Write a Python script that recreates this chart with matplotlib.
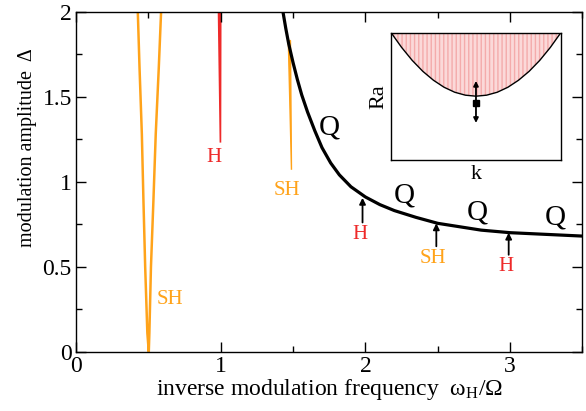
import matplotlib
matplotlib.use("Agg")
import matplotlib.pyplot as plt

plt.rcParams['font.family'] = ['Liberation Serif', 'DejaVu Serif']
plt.rcParams['mathtext.fontset'] = 'custom'
plt.rcParams['mathtext.rm'] = 'Liberation Serif'
plt.rcParams['mathtext.it'] = 'Liberation Serif:italic'
plt.rcParams['hatch.linewidth'] = 1.0

ORANGE = '#ffa31a'
RED = '#ee2a2a'

# quasiperiodic (Q) boundary
q_x = [1.43, 1.45, 1.47, 1.50, 1.53, 1.56, 1.60, 1.65, 1.70, 1.76, 1.82, 1.90, 2.00,
       2.10, 2.20, 2.35, 2.50, 2.65, 2.80, 3.00, 3.25, 3.50]
q_y = [2.00, 1.90, 1.81, 1.70, 1.60, 1.51, 1.41, 1.30, 1.20, 1.11, 1.04, 0.97, 0.91,
       0.865, 0.83, 0.79, 0.755, 0.735, 0.715, 0.70, 0.69, 0.68]

# subharmonic tongue near 0.5
sh_x = [0.427, 0.439, 0.455, 0.466, 0.478, 0.493, 0.503, 0.507, 0.518, 0.535, 0.551, 0.572, 0.588]
sh_y = [2.00, 1.67, 1.28, 0.89, 0.50, 0.11, 0.00, 0.11, 0.50, 0.89, 1.28, 1.67, 2.00]

# harmonic wedge at 1 and subharmonic wedge at 1.5
h1_x = [0.985, 1.000, 0.998]
h1_y = [2.00, 2.00, 1.23]
sh2_x = [1.467, 1.482, 1.489]
sh2_y = [1.83, 1.83, 1.07]

# arrows under the Q curve: (x, tail, head, label, colour)
arr_x = [1.98, 2.49, 2.99]
arr_tail = [0.76, 0.62, 0.57]
arr_head = [0.905, 0.755, 0.70]
arr_lab = ['H', 'SH', 'H']
arr_col = [RED, ORANGE, RED]

q_lab_x = [1.75, 2.27, 2.77, 3.31]
q_lab_y = [1.32, 0.92, 0.82, 0.79]

# inset: stability parabola Ra(k)
k_vals = [-1.0, -0.875, -0.75, -0.625, -0.5, -0.375, -0.25, -0.125, 0.0,
          0.125, 0.25, 0.375, 0.5, 0.625, 0.75, 0.875, 1.0]
ra_vals = [1.0, 0.883, 0.781, 0.695, 0.625, 0.570, 0.531, 0.508, 0.5,
           0.508, 0.531, 0.570, 0.625, 0.695, 0.781, 0.883, 1.0]

fig = plt.figure(figsize=(5.86, 4.11), dpi=100)
ax = fig.add_axes([0.1297, 0.1443, 0.8643, 0.8273])

ax.plot(q_x, q_y, color='black', lw=2.3, solid_capstyle='butt')
ax.plot(sh_x, sh_y, color=ORANGE, lw=1.8)
ax.fill(h1_x, h1_y, color=RED, lw=1.2, ec=RED)
ax.fill(sh2_x, sh2_y, color=ORANGE, lw=1.0, ec=ORANGE)

for x, t, h, lab, c in zip(arr_x, arr_tail, arr_head, arr_lab, arr_col):
    ax.annotate('', xy=(x, h), xytext=(x, t),
                arrowprops=dict(arrowstyle='-|>', color='black', lw=1.3,
                                mutation_scale=9, shrinkA=0, shrinkB=0))
    ax.text(x - 0.02, t - 0.07, lab, color=c, fontsize=15, ha='center', va='center')

for x, y in zip(q_lab_x, q_lab_y):
    ax.text(x, y, 'Q', fontsize=21, ha='center', va='center')

ax.text(0.955, 1.14, 'H', color=RED, fontsize=15, ha='center', va='center')
ax.text(1.46, 0.95, 'SH', color=ORANGE, fontsize=15, ha='center', va='center')
ax.text(0.65, 0.305, 'SH', color=ORANGE, fontsize=15, ha='center', va='center')

ax.set_xlim(0, 3.5)
ax.set_ylim(0, 2)
ax.set_xticks([0, 1, 2, 3])
ax.set_xticks([0.5, 1.5, 2.5, 3.5], minor=True)
ax.set_yticks([0, 0.5, 1, 1.5, 2])
ax.set_yticklabels(['0', '0.5', '1', '1.5', '2'])
ax.set_yticks([0.25, 0.75, 1.25, 1.75], minor=True)
ax.tick_params(which='both', direction='in', top=True, right=True, labelsize=17, width=1)
ax.tick_params(which='major', length=7, pad=3)
ax.tick_params(which='minor', length=4)
for s in ax.spines.values():
    s.set_linewidth(1)

ax.set_xlabel(r'inverse modulation frequency  $\mathrm{\omega_H/\Omega}$', fontsize=17, labelpad=0)
ax.set_ylabel('modulation amplitude  Δ', fontsize=14.5)
ax.yaxis.set_label_coords(-0.077, 0.60)

# inset
ins = fig.add_axes([0.6672, 0.611, 0.2901, 0.3099])
ins.fill_between(k_vals, ra_vals, 1.0, facecolor='#fbd9d9', edgecolor='#f4abab',
                 hatch='||||', lw=0)
ins.plot(k_vals, ra_vals, color='black', lw=1)
ins.annotate('', xy=(0, 0.29), xytext=(0, 0.62),
             arrowprops=dict(arrowstyle='<|-|>', color='black', lw=1.3,
                             mutation_scale=7, shrinkA=0, shrinkB=0))
ins.plot([0], [0.445], marker='s', color='black', ms=5)
ins.set_xlim(-1, 1)
ins.set_ylim(0, 1)
ins.set_xticks([])
ins.set_yticks([])
for s in ins.spines.values():
    s.set_linewidth(1)
ins.set_xlabel('k', fontsize=16, labelpad=4)
ins.set_ylabel('Ra', fontsize=16, labelpad=2)

fig.savefig('out.png', dpi=100)
